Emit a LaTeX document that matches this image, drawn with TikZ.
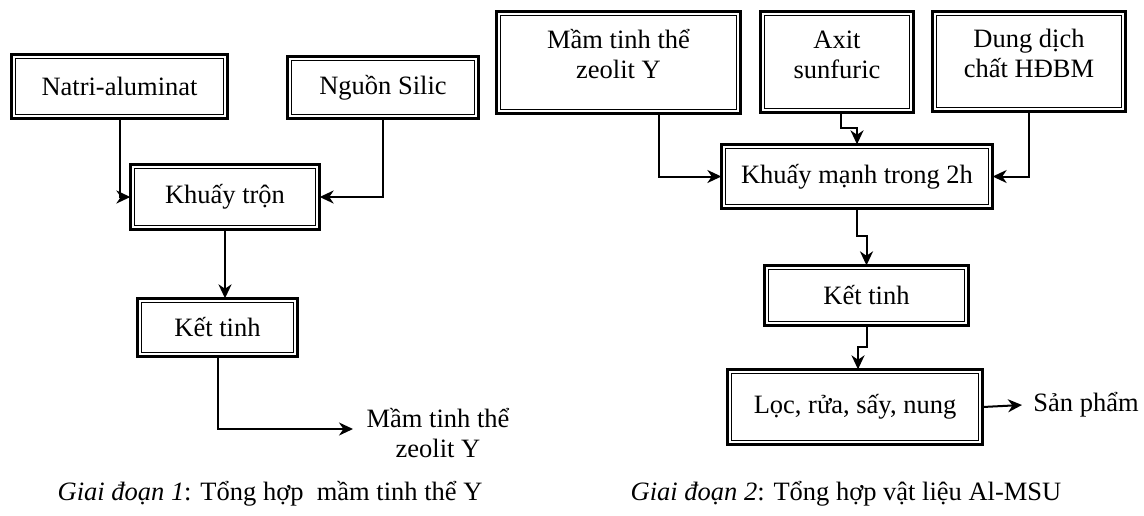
\documentclass[tikz,border=0pt]{standalone}
\usepackage{fontspec}
\setmainfont{Liberation Serif}
\usetikzlibrary{arrows.meta,calc}
\begin{document}
\begin{tikzpicture}[x=0.5pt,y=-0.5pt,
  every node/.style={font=\fontsize{13.25}{15}\selectfont},
  dbox/.style={draw, line width=1.35pt, align=center, inner sep=0pt, outer sep=0pt},
  twoline/.style={text height=24pt, text depth=8pt},
  innerline/.style={line width=0.85pt},
  arr/.style={line width=1pt, -{Stealth[length=7pt,width=6.5pt,inset=2.2pt]}},
  plain/.style={align=center, inner sep=0pt}]
\useasboundingbox (0,0) rectangle (1144,515);
% stage 1
\node[dbox, minimum width=108.15pt, minimum height=32.15pt] (n1) at (119.5,86.5) {Natri-aluminat};
\node[dbox, minimum width=95.65pt, minimum height=31.15pt] (n2) at (383,87.5) {Nguồn Silic};
\node[dbox, minimum width=94.65pt, minimum height=32.65pt] (n3) at (225,197) {Khuấy trộn};
\node[dbox, minimum width=80.15pt, minimum height=29.15pt] (n4) at (217.5,327.5) {Kết tinh};
\node[plain] (out) at (438,433) {Mầm tinh thể\\zeolit Y};
\coordinate (outin) at (353,429);
% stage 2
\node[dbox, twoline, minimum width=122.15pt, minimum height=51.15pt] (m1) at (618.5,62.5) {Mầm tinh thể\\zeolit Y};
\node[dbox, twoline, minimum width=76.65pt, minimum height=50.65pt] (m2) at (837,62) {Axit\\sunfuric};
\node[dbox, twoline, minimum width=96.65pt, minimum height=50.15pt] (m3) at (1029,61.5) {Dung dịch\\chất HĐBM};
\node[dbox, minimum width=135.65pt, minimum height=32.15pt] (m4) at (857,176.5) {Khuấy mạnh trong 2h};
\node[dbox, minimum width=102.15pt, minimum height=30.15pt] (m5) at (866.5,295.5) {Kết tinh};
\node[dbox, minimum width=127.65pt, minimum height=37.65pt] (m6) at (855,407) {Lọc, rửa, sấy, nung};
\node[plain, anchor=west, inner xsep=5.5pt] (prod) at (1022,405) {Sản phẩm};
% inner lines of the double frames
\foreach \n in {n1,n2,n3,n4,m1,m2,m3,m4,m5,m6}
  \draw[innerline] ($(\n.north west)+(4.2,4.2)$) rectangle ($(\n.south east)+(-4.2,-4.2)$);
% captions
\node[anchor=base] (c1) at (270,500) {\textit{Giai đoạn 1}: Tổng hợp\ \ mầm tinh thể Y};
\node[anchor=base] (c2) at (846,500) {\textit{Giai đoạn 2}: Tổng hợp vật liệu Al-MSU};
% connectors stage 1
\draw[arr] (n1.south) |- (n3.west);
\draw[arr] (n2.south) |- (n3.east);
\draw[arr] (n3.south) -- (n3.south |- n4.north);
\draw[arr] (n4.south) |- (outin);
% connectors stage 2
\draw[arr] ($(m1.south)+(40.5,0)$) |- (m4.west);
\draw[arr] ($(m2.south)+(4,0)$) -- ++(0,15) -| (m4.north);
\draw[arr] (m3.south) |- (m4.east);
\draw[arr] (m4.south) -- ++(0,27) -| (m5.north);
\draw[arr] (m5.south) -- ++(0,21) -| ($(m6.north)+(3,0)$);
\draw[arr] (m6.east) -- (prod.west);
\end{tikzpicture}
\end{document}
